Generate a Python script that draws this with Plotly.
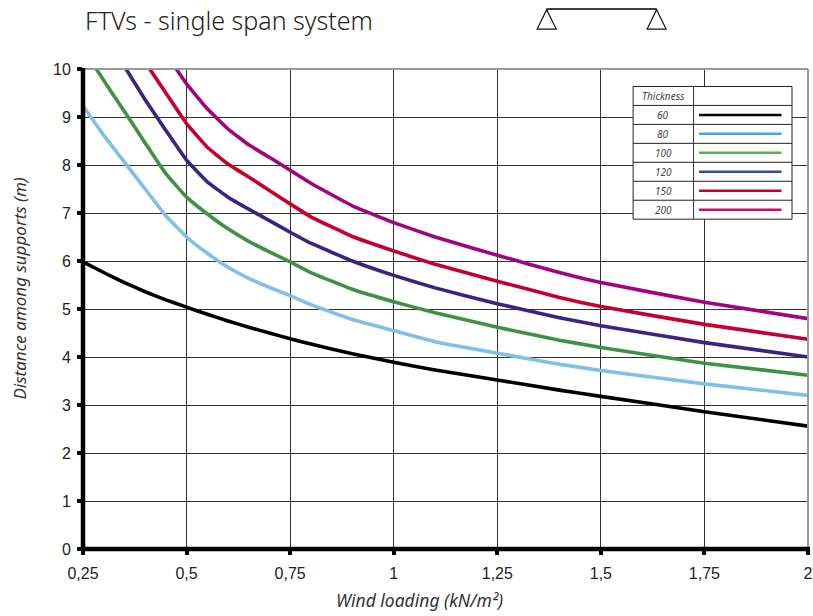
import plotly.graph_objects as go

W, H = 813, 616
L, R, T, B = 83, 808.5, 68.5, 549.5

x_ticks = [0.25, 0.5, 0.75, 1, 1.25, 1.5, 1.75, 2]
x_labels = ["0,25", "0,5", "0,75", "1", "1,25", "1,5", "1,75", "2"]
y_ticks = list(range(0, 11))

names = ["60", "80", "100", "120", "150", "200"]
colors_line = ["#000000", "#7FBFE8", "#3F9146", "#3A2382", "#C4002F", "#A0057F"]
colors_key = ["#000000", "#3FA9E6", "#5BAF50", "#3C4A96", "#C4002F", "#C80A78"]

x60 = [0.25, 0.3, 0.35, 0.4, 0.45, 0.5, 0.55, 0.6, 0.65, 0.7, 0.75, 0.8, 0.9, 1, 1.1, 1.25, 1.4, 1.5, 1.75, 2]
y60 = [5.98, 5.76, 5.55, 5.36, 5.19, 5.04, 4.89, 4.75, 4.62, 4.5, 4.38, 4.27, 4.07, 3.89, 3.73, 3.52, 3.31, 3.18, 2.86, 2.56]
x80 = [0.25, 0.3, 0.35, 0.4, 0.45, 0.5, 0.55, 0.6, 0.65, 0.7, 0.75, 0.8, 0.9, 1, 1.1, 1.25, 1.4, 1.5, 1.75, 2]
y80 = [9.23, 8.62, 8.06, 7.5, 6.94, 6.5, 6.16, 5.87, 5.64, 5.45, 5.28, 5.09, 4.78, 4.55, 4.32, 4.08, 3.85, 3.72, 3.44, 3.2]
x100 = [0.279, 0.32, 0.359, 0.4, 0.45, 0.5, 0.55, 0.6, 0.65, 0.7, 0.75, 0.8, 0.9, 1, 1.1, 1.25, 1.4, 1.5, 1.75, 2]
y100 = [10.04, 9.5, 9.0, 8.46, 7.82, 7.33, 6.98, 6.67, 6.41, 6.19, 5.98, 5.76, 5.41, 5.15, 4.92, 4.62, 4.35, 4.2, 3.87, 3.62]
x120 = [0.351, 0.4, 0.45, 0.5, 0.55, 0.6, 0.65, 0.7, 0.75, 0.8, 0.9, 1, 1.1, 1.25, 1.4, 1.5, 1.75, 2]
y120 = [10.04, 9.36, 8.72, 8.1, 7.65, 7.33, 7.08, 6.84, 6.6, 6.37, 6.0, 5.7, 5.44, 5.11, 4.82, 4.65, 4.3, 4.0]
x150 = [0.408, 0.45, 0.5, 0.55, 0.6, 0.65, 0.7, 0.75, 0.8, 0.9, 1, 1.1, 1.25, 1.4, 1.5, 1.75, 2]
y150 = [10.04, 9.5, 8.86, 8.37, 8.02, 7.75, 7.47, 7.19, 6.92, 6.51, 6.21, 5.93, 5.58, 5.24, 5.05, 4.68, 4.37]
x200 = [0.472, 0.5, 0.55, 0.6, 0.65, 0.7, 0.75, 0.8, 0.9, 1, 1.1, 1.25, 1.4, 1.5, 1.75, 2]
y200 = [10.04, 9.69, 9.17, 8.75, 8.42, 8.16, 7.89, 7.62, 7.15, 6.8, 6.5, 6.12, 5.76, 5.55, 5.14, 4.8]

xs = [x60, x80, x100, x120, x150, x200]
ys = [y60, y80, y100, y120, y150, y200]


def px(v):
    return (v - L) / (R - L)


def py(v):
    return (B - v) / (B - T)


fig = go.Figure()
for n, c, a, b in zip(names, colors_line, xs, ys):
    fig.add_trace(go.Scatter(x=a, y=b, name=n, mode="lines",
                             line=dict(color=c, width=3.6, shape="spline", smoothing=0.3),
                             showlegend=False, hoverinfo="skip"))

shapes = []
annos = []


def line(x0, y0, x1, y1, color="#000", width=1):
    shapes.append(dict(type="line", xref="paper", yref="paper", x0=px(x0), y0=py(y0),
                       x1=px(x1), y1=py(y1), line=dict(color=color, width=width)))


# Grey top / right frame, black left / bottom axes
line(L, T, R, T, "#999", 2)
line(R, T, R, B, "#999", 2)
line(L, T - 1, L, B + 2, "#000", 4.5)
line(L - 2, B, R + 2, B, "#000", 4.5)

# Key table
kx0, kx1, kx2 = 633.5, 694, 792.5
ky0, row = 86, 19
rows = len(names) + 1
shapes.append(dict(type="rect", xref="paper", yref="paper", x0=px(kx0), x1=px(kx2),
                   y0=py(ky0), y1=py(ky0 + rows * row), fillcolor="white",
                   line=dict(color="#222", width=1)))
for i in range(1, rows):
    line(kx0, ky0 + i * row, kx2, ky0 + i * row, "#222", 1)
line(kx1, ky0, kx1, ky0 + rows * row, "#333", 1)
annos.append(dict(text="<i>Thickness</i>", x=px((kx0 + kx1) / 2), y=py(ky0 + row / 2), xref="paper", yref="paper",
                  showarrow=False, font=dict(family="Noto Sans", size=10, color="#444"),
                  xanchor="center", yanchor="middle"))
for i, (n, c) in enumerate(zip(names, colors_key)):
    yy = ky0 + (i + 1.5) * row
    annos.append(dict(text=f"<i>{n}</i>", x=px((kx0 + kx1) / 2), y=py(yy), xref="paper", yref="paper",
                      showarrow=False, font=dict(family="Noto Sans", size=10, color="#444"),
                      xanchor="center", yanchor="middle"))
    line(699.5, yy, 782, yy, c, 2.5)

# Beam symbol
line(547, 8.5, 657, 8.5, "#000", 1.5)
for cx in (547, 657):
    shapes.append(dict(type="path", xref="paper", yref="paper",
                       path=f"M {px(cx)} {py(9)} L {px(cx - 9.5)} {py(28.5)} L {px(cx + 9.5)} {py(28.5)} Z",
                       line=dict(color="#111", width=1.2), fillcolor="white"))

annos += [
    dict(text="FTVs - single span system", x=px(83), y=py(19), xref="paper", yref="paper", showarrow=False,
         xanchor="left", yanchor="middle", font=dict(family="Noto Sans", size=25, color="#222", weight=300)),
    dict(text="<i>Wind loading (kN/m²)</i>", x=px(420), y=py(601), xref="paper", yref="paper", showarrow=False,
         xanchor="center", yanchor="middle", font=dict(family="Noto Sans", size=17.5, color="#333")),
    dict(text="<i>Distance among supports (m)</i>", x=px(18.5), y=py(289), xref="paper", yref="paper",
         showarrow=False, textangle=-90, xanchor="center", yanchor="middle",
         font=dict(family="Noto Sans", size=17, color="#333")),
]

fig.update_layout(
    width=W, height=H, autosize=False,
    margin=dict(l=L, r=W - R, t=T, b=H - B, pad=0),
    plot_bgcolor="white", paper_bgcolor="white",
    shapes=shapes, annotations=annos,
    xaxis=dict(range=[0.25, 2], tickvals=x_ticks, ticktext=x_labels, showgrid=True, gridcolor="#333", gridwidth=1.2,
               automargin=False, zeroline=False, showline=False, ticks="outside", ticklen=5, ticklabelstandoff=5,
               tickwidth=4, tickcolor="#000", tickfont=dict(family="Liberation Sans", size=16, color="#222")),
    yaxis=dict(range=[0, 10], tickvals=y_ticks, showgrid=True, gridcolor="#333", gridwidth=1.2,
               automargin=False, zeroline=False, showline=False, ticks="outside", ticklen=5, ticklabelstandoff=3,
               tickwidth=4, tickcolor="#000", tickfont=dict(family="Liberation Sans", size=16, color="#222")),
)
fig.write_html("out.html", config=dict(displayModeBar=False, responsive=False),
               post_script="document.body.style.margin='0';document.documentElement.style.overflow='hidden';")
